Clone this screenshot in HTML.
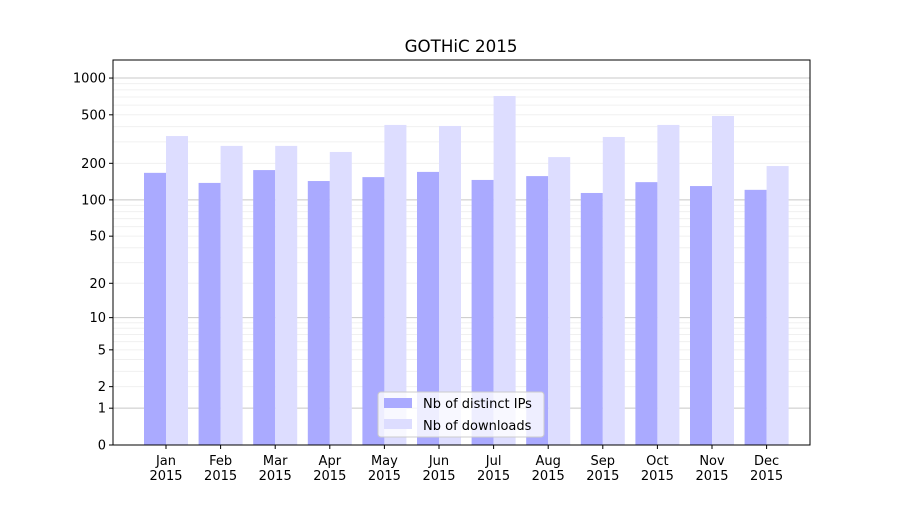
<!DOCTYPE html>
<html><head><meta charset="utf-8"><style>
body{margin:0;background:#fff;}
svg{font-family:"DejaVu Sans","Liberation Sans",sans-serif;}
</style></head><body>
<svg id="chart" width="900" height="500" xmlns="http://www.w3.org/2000/svg">
<rect width="900" height="500" fill="#fff"/>
<g id="grid"></g>
<g id="bars"></g>
<g id="axes"></g>
<text x="461" y="52" text-anchor="middle" font-size="16.7">GOTHiC 2015</text>
<g>
<rect x="378" y="392" width="166" height="45" rx="3" fill="#fff" fill-opacity="0.8" stroke="#ccc"/>
<rect x="384" y="398" width="28" height="10" fill="#aaaaff"/>
<text x="423" y="408" font-size="13">Nb of distinct IPs</text>
<rect x="384" y="419" width="28" height="10" fill="#ddddff"/>
<text x="423" y="430" font-size="13">Nb of downloads</text>
</g>
</svg>
<script>
const months=["Jan","Feb","Mar","Apr","May","Jun","Jul","Aug","Sep","Oct","Nov","Dec"];
const ips=[167,138,176,143,154,170,146,157,114,140,130,121];
const downloads=[335,278,278,248,413,405,713,225,329,413,489,190];
const yTicks=[0,1,2,5,10,20,50,100,200,500,1000];
const NS="http://www.w3.org/2000/svg";
const L=113,R=810,T=60,B=445;
function y(v){return B-122.3*Math.log10(1+v);}
function xc(i){return 166+i*54.6;}
function mk(tag,attrs,parent){const e=document.createElementNS(NS,tag);for(const k in attrs)e.setAttribute(k,attrs[k]);parent.appendChild(e);return e;}
const grid=document.getElementById('grid'),bars=document.getElementById('bars'),axes=document.getElementById('axes');
[1,10,100].forEach(d=>{for(let m=2;m<=9;m++){const yy=y(d*m);const l=mk('line',{x1:L,x2:R,y1:yy,y2:yy,stroke:'#f0f0f0','stroke-width':1},grid);

}});
[1,10,100,1000].forEach(v=>{const yy=y(v);const l=mk('line',{x1:L,x2:R,y1:yy,y2:yy,stroke:'#c8c8c8','stroke-width':1},grid);

});
months.forEach((m,i)=>{
const c=xc(i);
const b1=mk('rect',{x:c-22,y:y(ips[i]),width:22,height:B-y(ips[i]),fill:'#aaaaff'},bars);


const b2=mk('rect',{x:c,y:y(downloads[i]),width:22,height:B-y(downloads[i]),fill:'#ddddff'},bars);


mk('line',{x1:c,x2:c,y1:B,y2:B+4,stroke:'#000'},axes);
const t=mk('text',{x:c,y:B+20,'text-anchor':'middle','font-size':13},axes);
t.textContent=m;


const t2=mk('text',{x:c,y:B+35,'text-anchor':'middle','font-size':13},axes);
t2.textContent='2015';


});
yTicks.forEach(v=>{const yy=y(v);mk('line',{x1:L-4,x2:L,y1:yy,y2:yy,stroke:'#000'},axes);
const t=mk('text',{x:L-7,y:yy+4.5,'text-anchor':'end','font-size':13},axes);t.textContent=v;

});
const fr=mk('rect',{x:L,y:T,width:R-L,height:B-T,fill:'none',stroke:'#000','stroke-width':1},axes);


</script>
</body></html>
